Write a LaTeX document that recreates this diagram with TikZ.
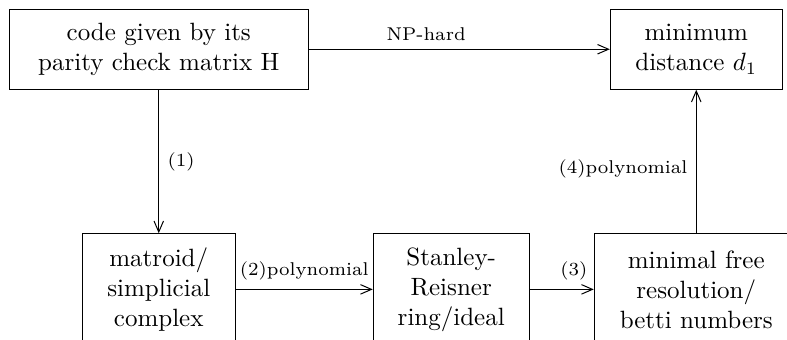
\documentclass[tikz,border=0pt]{standalone}
\usetikzlibrary{arrows, arrows.meta, positioning}

\begin{document}
\begin{tikzpicture}[
  node distance=57.4pt,
  >={Straight Barb[length=4.4pt,width=3.8pt]},
  box/.style={rectangle,draw,align=center},
  lab/.style={font=\fontsize{7.4}{9}\selectfont}]

  \useasboundingbox (0,0) rectangle (314.8pt,-136pt);

  \node[box, minimum width=119.6pt, minimum height=32pt](code) at (63.5pt,-19.7pt) {code given by its\\parity check matrix H};
  \node[box, minimum width=61.2pt, minimum height=44.5pt](matroid)[below=of code]{matroid/\\simplicial\\complex};
  \node[box, minimum width=62.4pt, minimum height=44.5pt](stanley)[right=54.8pt of matroid]{Stanley-\\Reisner\\ring/ideal};
  \node[box, minimum width=81.6pt, minimum height=44.5pt](betti)[right=25.6pt of stanley]{minimal free\\resolution/\\betti numbers};
  \node[box, minimum width=68.8pt, minimum height=32pt](dist)[above=of betti]{minimum\\distance $d_1$};

  \draw[->] (code) -- node[pos=0.39, above, lab]{NP-hard} (dist);
  \draw[->] (code) -- node[right, lab]{(1)} (matroid);
  \draw[->] (matroid) -- node[above, lab]{(2)polynomial} (stanley);
  \draw[->] (stanley) -- node[pos=0.69, above, lab]{(3)} (betti);
  \draw[->] (betti) -- node[pos=0.45, left, lab]{(4)polynomial} (dist);
\end{tikzpicture}
\end{document}
